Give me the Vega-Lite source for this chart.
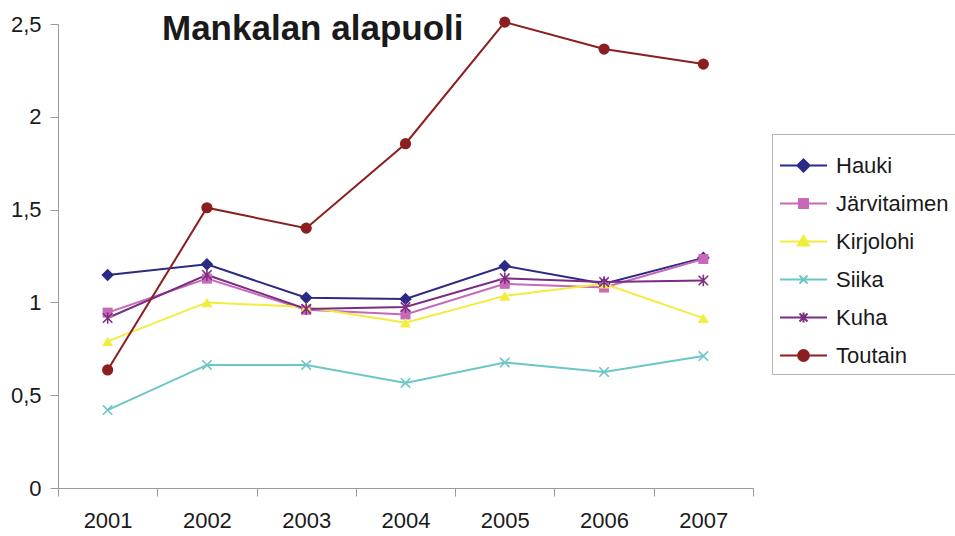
{
  "$schema": "https://vega.github.io/schema/vega-lite/v6.json",
  "width": 695,
  "height": 464,
  "autosize": {"type": "none"},
  "padding": {"left": 58, "top": 24, "right": 202, "bottom": 48},
  "background": "white",
  "config": {
    "view": {"stroke": null},
    "font": "Liberation Sans",
    "axis": {"grid": false}
  },
  "title": {
    "text": "Mankalan alapuoli",
    "anchor": "start",
    "frame": "group",
    "font": "Liberation Sans",
    "fontSize": 35,
    "fontWeight": "bold",
    "color": "#1a1a1a",
    "baseline": "alphabetic",
    "offset": 0,
    "dx": 104,
    "dy": 62
  },
  "data": {
    "values": [
      {"year": 2001, "series": "Hauki", "value": 1.148},
      {"year": 2002, "series": "Hauki", "value": 1.205},
      {"year": 2003, "series": "Hauki", "value": 1.025},
      {"year": 2004, "series": "Hauki", "value": 1.018},
      {"year": 2005, "series": "Hauki", "value": 1.196},
      {"year": 2006, "series": "Hauki", "value": 1.10},
      {"year": 2007, "series": "Hauki", "value": 1.24},
      {"year": 2001, "series": "Järvitaimen", "value": 0.945},
      {"year": 2002, "series": "Järvitaimen", "value": 1.128},
      {"year": 2003, "series": "Järvitaimen", "value": 0.96},
      {"year": 2004, "series": "Järvitaimen", "value": 0.935},
      {"year": 2005, "series": "Järvitaimen", "value": 1.10},
      {"year": 2006, "series": "Järvitaimen", "value": 1.08},
      {"year": 2007, "series": "Järvitaimen", "value": 1.234},
      {"year": 2001, "series": "Kirjolohi", "value": 0.79},
      {"year": 2002, "series": "Kirjolohi", "value": 1.0},
      {"year": 2003, "series": "Kirjolohi", "value": 0.975},
      {"year": 2004, "series": "Kirjolohi", "value": 0.89},
      {"year": 2005, "series": "Kirjolohi", "value": 1.035},
      {"year": 2006, "series": "Kirjolohi", "value": 1.10},
      {"year": 2007, "series": "Kirjolohi", "value": 0.915},
      {"year": 2001, "series": "Siika", "value": 0.42},
      {"year": 2002, "series": "Siika", "value": 0.663},
      {"year": 2003, "series": "Siika", "value": 0.663},
      {"year": 2004, "series": "Siika", "value": 0.566},
      {"year": 2005, "series": "Siika", "value": 0.676},
      {"year": 2006, "series": "Siika", "value": 0.625},
      {"year": 2007, "series": "Siika", "value": 0.711},
      {"year": 2001, "series": "Kuha", "value": 0.916},
      {"year": 2002, "series": "Kuha", "value": 1.148},
      {"year": 2003, "series": "Kuha", "value": 0.965},
      {"year": 2004, "series": "Kuha", "value": 0.975},
      {"year": 2005, "series": "Kuha", "value": 1.13},
      {"year": 2006, "series": "Kuha", "value": 1.11},
      {"year": 2007, "series": "Kuha", "value": 1.118},
      {"year": 2001, "series": "Toutain", "value": 0.636},
      {"year": 2002, "series": "Toutain", "value": 1.51},
      {"year": 2003, "series": "Toutain", "value": 1.40},
      {"year": 2004, "series": "Toutain", "value": 1.855},
      {"year": 2005, "series": "Toutain", "value": 2.51},
      {"year": 2006, "series": "Toutain", "value": 2.365},
      {"year": 2007, "series": "Toutain", "value": 2.284}
    ]
  },
  "encoding": {
    "x": {
      "field": "year",
      "type": "quantitative",
      "scale": {"domain": [2000.5, 2007.5], "nice": false, "zero": false},
      "axis": {
        "title": null,
        "values": [2000.5, 2001.5, 2002.5, 2003.5, 2004.5, 2005.5, 2006.5, 2007.5],
        "labelExpr": "datum.value < 2007 ? format(datum.value + 0.5, 'd') : ''",
        "labelOffset": 49.6,
        "labelFlush": false,
        "labelOverlap": false,
        "labelBound": false,
        "labelFontSize": 22,
        "labelColor": "#1a1a1a",
        "labelPadding": 14,
        "domainColor": "#9a9a9a",
        "tickColor": "#9a9a9a",
        "tickSize": 8
      }
    },
    "y": {
      "field": "value",
      "type": "quantitative",
      "scale": {"domain": [0, 2.5], "nice": false, "zero": true},
      "axis": {
        "title": null,
        "values": [0, 0.5, 1, 1.5, 2, 2.5],
        "labelExpr": "replace(format(datum.value, '~g'), '.', ',')",
        "labelFontSize": 22,
        "labelColor": "#1a1a1a",
        "labelPadding": 9,
        "domainColor": "#9a9a9a",
        "tickColor": "#9a9a9a",
        "tickSize": 8
      }
    }
  },
  "layer": [
    {
      "mark": {"type": "line", "strokeWidth": 2, "clip": false},
      "encoding": {
        "color": {
          "field": "series",
          "type": "nominal",
          "sort": null,
          "scale": {
            "domain": ["Hauki", "Järvitaimen", "Kirjolohi", "Siika", "Kuha", "Toutain"],
            "range": ["#2b2a86", "#c868b8", "#f2ec3c", "#6cc6c6", "#7b2c83", "#8b1e1e"]
          },
          "legend": {
            "title": null,
            "orient": "none",
            "legendX": 714,
            "legendY": 110,
            "padding": 7,
            "strokeColor": "#b4b4b4",
            "fillColor": "white",
            "labelFont": "Liberation Sans",
            "labelFontSize": 22,
            "labelColor": "#1a1a1a",
            "labelLimit": 300,
            "labelOffset": 8,
            "symbolOffset": 0,
            "symbolSize": 2209,
            "symbolStrokeWidth": 2,
            "symbolOpacity": 1,
            "rowPadding": 2
          }
        }
      }
    },
    {
      "transform": [{"filter": "datum.value < 0"}],
      "mark": {"type": "point", "filled": false, "strokeWidth": 2, "opacity": 1, "clip": false},
      "encoding": {
        "color": {
          "field": "series",
          "type": "nominal",
          "sort": null,
          "scale": {
            "domain": ["Hauki", "Järvitaimen", "Kirjolohi", "Siika", "Kuha", "Toutain"],
            "range": ["#2b2a86", "#c868b8", "#f2ec3c", "#6cc6c6", "#7b2c83", "#8b1e1e"]
          }
        },
        "shape": {
          "field": "series",
          "type": "nominal",
          "sort": null,
          "scale": {
            "domain": ["Hauki", "Järvitaimen", "Kirjolohi", "Siika", "Kuha", "Toutain"],
            "range": [
              "M-1,0L1,0M0,-0.26L0.26,0L0,0.26L-0.26,0ZM0,-0.17L0.17,0L0,0.17L-0.17,0ZM0,-0.08L0.08,0L0,0.08L-0.08,0Z",
              "M-1,0L1,0M-0.19,-0.19H0.19V0.19H-0.19ZM-0.11,-0.11H0.11V0.11H-0.11ZM-0.04,-0.04H0.04V0.04H-0.04Z",
              "M-1,0L1,0M0,-0.24L0.23,0.17L-0.23,0.17ZM0,-0.13L0.12,0.1L-0.12,0.1ZM0,-0.04L0.04,0.05L-0.04,0.05Z",
              "M-1,0L1,0M-0.17,-0.17L0.17,0.17M-0.17,0.17L0.17,-0.17",
              "M-1,0L1,0M-0.17,-0.17L0.17,0.17M-0.17,0.17L0.17,-0.17M0,-0.21L0,0.21",
              "M-1,0L1,0M0.23,0A0.23,0.23,0,1,1,-0.23,0A0.23,0.23,0,1,1,0.23,0ZM0.15,0A0.15,0.15,0,1,1,-0.15,0A0.15,0.15,0,1,1,0.15,0ZM0.07,0A0.07,0.07,0,1,1,-0.07,0A0.07,0.07,0,1,1,0.07,0Z"
            ]
          }
        }
      }
    },
    {
      "transform": [{"filter": "datum.series === 'Hauki'"}],
      "mark": {"type": "point", "shape": "M0,-1.2L1.2,0L0,1.2L-1.2,0Z", "filled": true, "size": 110, "color": "#2b2a86", "opacity": 1, "clip": false}
    },
    {
      "transform": [{"filter": "datum.series === 'Järvitaimen'"}],
      "mark": {"type": "point", "shape": "square", "filled": true, "size": 100, "color": "#c868b8", "opacity": 1, "clip": false}
    },
    {
      "transform": [{"filter": "datum.series === 'Kirjolohi'"}],
      "mark": {"type": "point", "shape": "triangle-up", "filled": true, "size": 120, "color": "#f2ec3c", "opacity": 1, "clip": false}
    },
    {
      "transform": [{"filter": "datum.series === 'Siika'"}],
      "mark": {"type": "point", "shape": "M-0.9,-0.9L0.9,0.9M-0.9,0.9L0.9,-0.9", "filled": false, "size": 110, "strokeWidth": 1.6, "color": "#6cc6c6", "opacity": 1, "clip": false}
    },
    {
      "transform": [{"filter": "datum.series === 'Kuha'"}],
      "mark": {"type": "point", "shape": "M-0.9,-0.9L0.9,0.9M-0.9,0.9L0.9,-0.9M0,-1.1L0,1.1", "filled": false, "size": 110, "strokeWidth": 1.6, "color": "#7b2c83", "opacity": 1, "clip": false}
    },
    {
      "transform": [{"filter": "datum.series === 'Toutain'"}],
      "mark": {"type": "point", "shape": "circle", "filled": true, "size": 125, "color": "#8b1e1e", "opacity": 1, "clip": false}
    }
  ]
}
